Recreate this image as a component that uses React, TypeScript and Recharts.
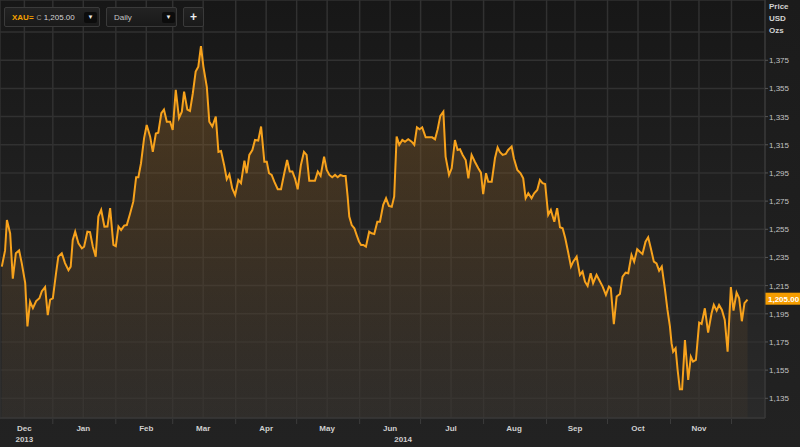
import React from "react";
import { ComposedChart, Area, XAxis, YAxis, CartesianGrid, ReferenceLine } from "recharts";

// trading days, counted in calendar days from 1 Dec 2013
const days = [
  5.9, 7.5, 8.4, 10.0, 11.3, 12.8, 14.4, 15.7, 17.4, 18.5,
  19.8, 21.2, 22.8, 24.4, 25.6, 27.2, 28.5, 29.7, 31.0, 32.6,
  33.7, 35.4, 37.0, 38.7, 39.8, 40.8, 42.0, 43.6, 45.3, 46.4,
  48.0, 49.3, 50.7, 52.1, 53.4, 54.8, 56.4, 57.9, 59.2, 60.8,
  62.0, 63.3, 64.6, 66.1, 67.4, 69.0, 70.6, 72.0, 73.1, 74.4,
  75.9, 77.2, 78.9, 80.2, 81.7, 82.9, 84.4, 85.7, 87.1, 88.7,
  90.0, 91.5, 93.1, 94.5, 95.6, 97.2, 98.5, 99.9, 101.3, 102.6,
  103.9, 105.1, 106.8, 108.0, 109.5, 111.2, 112.5, 113.8, 115.3, 116.6,
  117.9, 119.3, 120.7, 122.3, 123.6, 125.3, 126.4, 127.7, 129.2, 130.5,
  132.1, 133.5, 135.1, 136.3, 137.4, 138.7, 140.0, 141.7, 143.3, 144.9,
  146.3, 147.6, 148.9, 150.2, 151.5, 153.1, 154.6, 155.9, 157.2, 158.4,
  160.0, 161.4, 162.8, 164.5, 165.8, 167.1, 168.5, 169.9, 171.2, 172.5,
  173.8, 175.1, 176.1, 176.9, 178.1, 179.4, 180.5, 181.7, 182.7, 183.8,
  185.1, 186.7, 187.9, 189.2, 190.7, 192.0, 193.6, 195.0, 196.4, 197.8,
  199.0, 200.2, 201.5, 203.0, 204.3, 205.9, 207.6, 208.9, 210.2, 211.5,
  212.8, 214.5, 216.1, 217.7, 219.1, 220.4, 221.7, 223.2, 224.3, 226.0,
  227.3, 228.9, 230.2, 231.4, 232.7, 234.2, 235.5, 237.1, 238.7, 240.4,
  241.7, 242.8, 244.2, 245.3, 247.0, 248.6, 249.9, 251.0, 252.4, 253.9,
  255.1,
  256.8, 257.9, 259.6, 261.2, 262.5, 263.7, 265.0, 266.6, 267.9, 269.4,
  270.7, 272.0, 273.3, 274.8, 276.1, 277.8, 279.2, 280.6, 281.9, 283.2,
  284.6, 286.0, 287.1, 288.8, 290.4, 291.7, 292.9, 294.2, 295.7, 296.9,
  298.6, 299.9, 301.6, 303.2, 304.7, 305.6, 307.1, 308.5, 310.1, 311.4,
  312.9, 314.2, 315.8, 317.1, 318.6, 319.9, 321.2, 322.7, 324.0, 325.3,
  326.8, 328.1, 329.4, 330.7, 332.2, 333.5, 334.7, 335.5, 336.3, 337.5,
  338.5, 339.6, 340.7, 342.1, 343.7, 345.0, 346.1, 347.5, 349.1, 350.3,
  351.9, 353.5, 355.2, 356.3, 357.7, 358.9, 360.3, 361.7, 363.1, 364.7,
  366.0, 367.5, 368.8, 370.1, 371.4, 372.9,
];

const prices = [
  1228.5, 1240, 1261.6, 1252, 1220, 1238, 1240, 1231, 1217, 1186,
  1203.6, 1199, 1204, 1206, 1211, 1214, 1194, 1205, 1206, 1224,
  1235.6, 1238, 1231, 1226, 1228.5, 1247.4, 1253.3, 1245, 1241.5, 1242.6,
  1253.3, 1253, 1242.6, 1235.6, 1264, 1268.7, 1256.9, 1257, 1270, 1244,
  1243, 1257, 1254.5, 1257.6, 1258, 1266, 1274.6, 1292, 1292, 1301.9,
  1319.6, 1329, 1320.8, 1310, 1323, 1323.6, 1337.4, 1340, 1331.4, 1331.4,
  1325.5, 1354, 1334, 1338.5, 1352.7, 1340, 1339, 1351.6, 1367, 1370.5,
  1385, 1370.5, 1356, 1331.4, 1328, 1335, 1310, 1310.6, 1300.7, 1290.5,
  1294, 1284, 1279.4, 1290, 1287.7, 1303.7, 1294.8, 1307.8, 1311.3, 1318.4,
  1318, 1328, 1303, 1303, 1294.8, 1293.6, 1288.8, 1283.4, 1283.4, 1294.8,
  1304.2, 1296, 1296, 1291, 1283.4, 1300.7, 1310, 1307.8, 1289.5, 1289.5,
  1289.5, 1296, 1292.9, 1306.6, 1297.1, 1293.6, 1292, 1293.6, 1292, 1293.6,
  1292.9, 1292.9, 1278.2, 1264, 1258, 1255.7, 1251, 1246.2, 1243.9, 1243.9,
  1242.7, 1253.3, 1252.2, 1251.7, 1260.4, 1260.4, 1272.3, 1277, 1271.6, 1271,
  1278.2, 1320.8, 1314.9, 1318.4, 1317.2, 1318.9, 1317.2, 1314.9, 1327.4, 1326,
  1327.4, 1320.3, 1320.3, 1320.3, 1318.9, 1326, 1335.5, 1338.5, 1306.6, 1293.6,
  1298.3, 1318.4, 1311.3, 1311.8, 1307.8, 1304.2, 1291.2, 1307.8, 1303, 1298.3,
  1295.2, 1280, 1294.8, 1288.8, 1288.8, 1305.4, 1313.2, 1310, 1307.8, 1308.5,
  1311.3,
  1313.7, 1305.4, 1297.1, 1294.8, 1291.2, 1277, 1280.6, 1277, 1280.6, 1282.9,
  1290, 1287.7, 1287.2, 1265.2, 1268.7, 1260.4, 1270, 1256.4, 1255.7, 1248.6,
  1238.9, 1228.5, 1232, 1235.6, 1222.6, 1225, 1217.8, 1214.8, 1223.8, 1216.7,
  1222.6, 1219, 1214.3, 1208.4, 1214.3, 1213.1, 1187.6, 1207.2, 1209.1, 1221.4,
  1224.2, 1223.8, 1236.8, 1232, 1240.8, 1239, 1237.5, 1246.2, 1249.3, 1241.5,
  1232, 1230.8, 1225.6, 1228.5, 1213.1, 1197.7, 1186, 1174.1, 1168.1, 1170.5,
  1155.1, 1141.4, 1141.4, 1176.4, 1148, 1164.5, 1161, 1162.2, 1188.7, 1187.8,
  1198.9, 1181.6, 1195.4, 1201.3, 1197.2, 1201.3, 1197.7, 1190.6, 1168.1, 1213.9,
  1197.2, 1210, 1206, 1189.7, 1202.5, 1205,
];

const priceTicks = [1135, 1155, 1175, 1195, 1215, 1235, 1255, 1275, 1295, 1315, 1335, 1355, 1375, 1395];
const monthMidDays = [17, 46, 77, 105, 136, 166, 197, 227, 258, 288, 319, 349];
const monthNames = ["Dec", "Jan", "Feb", "Mar", "Apr", "May", "Jun", "Jul", "Aug", "Sep", "Oct", "Nov"];
const yearNames = ["2013", "", "", "", "", "", "2014", "", "", "", "", ""];
const monthStartDays = [31, 62, 90, 121, 151, 182, 212, 243, 274, 304, 335, 365];

const ric = "XAU=";
const lastPrice = 1205.0;
const period = "Daily";

const data = days.map((day, i) => ({ day, price: prices[i] }));
const gridDays = [...monthMidDays, ...monthStartDays].sort((a, b) => a - b);

const font = "'Liberation Sans', Arial, sans-serif";
const fmt = (v: number) => v.toLocaleString("en-US");
const fmt2 = (v: number) =>
  v.toLocaleString("en-US", { minimumFractionDigits: 2, maximumFractionDigits: 2 });

const XTick = (props: any) => {
  const { x, y, payload } = props;
  const i = monthMidDays.indexOf(payload.value);
  if (i >= 0) {
    return (
      <g fontFamily={font} fontSize={8} fontWeight="bold" fill="#cfcfcf">
        <text x={x} y={y + 13} textAnchor="middle">{monthNames[i]}</text>
        {yearNames[i] && (
          <text x={i === 0 ? x : x + 13} y={y + 24} textAnchor="middle">{yearNames[i]}</text>
        )}
      </g>
    );
  }
  return <line x1={x} x2={x} y1={y + 1} y2={y + 6} stroke="#3c3c3c" />;
};

const YTick = (props: any) => {
  const { x, y, payload } = props;
  if (payload.value > 1375) return <g />;
  return (
    <g>
      <line x1={x - 4} x2={x - 1} y1={y} y2={y} stroke="#555" />
      <text x={x} y={y} dy={3} fill="#c2c2c2" fontSize={8} fontFamily={font}>
        {fmt(payload.value)}
      </text>
    </g>
  );
};

const renderTag = (props: any) => {
  const vb = props.viewBox;
  const x = vb.x + vb.width;
  return (
    <g>
      <rect x={x} y={vb.y - 7} width={35} height={12} fill="#f59d00" />
      <text x={x + 3} y={vb.y} dy={2} fill="#ffffff" fontSize={8} fontWeight="bold" fontFamily={font}>
        {fmt2(lastPrice)}
      </text>
    </g>
  );
};

const box: React.CSSProperties = {
  position: "absolute",
  top: 7,
  height: 20,
  boxSizing: "border-box",
  background: "linear-gradient(#232323, #1a1a1a)",
  border: "1px solid #3a3a3a",
  borderRadius: 2,
  display: "flex",
  alignItems: "center",
  fontFamily: font,
};

const dropBtn: React.CSSProperties = {
  position: "absolute",
  top: 4,
  width: 13,
  height: 11,
  background: "#0c0c0c",
  borderRadius: 2,
  color: "#eee",
  fontSize: 6,
  lineHeight: "11px",
  textAlign: "center",
};

export default function App() {
  return (
    <div
      style={{
        position: "absolute",
        left: 0,
        top: 0,
        width: 800,
        height: 447,
        background: "linear-gradient(#1b1b1b, #222222)",
        overflow: "hidden",
      }}
    >
      <ComposedChart width={800} height={447} data={data} margin={{ top: 0, right: 0, bottom: 0, left: 0 }}>
        <defs>
          <linearGradient id="plotBg" x1="0" y1="0" x2="0" y2="1">
            <stop offset="0%" stopColor="#171717" />
            <stop offset="100%" stopColor="#2a2a2a" />
          </linearGradient>
          <linearGradient id="goldFill" x1="0" y1="0" x2="0" y2="1">
            <stop offset="0%" stopColor="#b87a28" stopOpacity={0.55} />
            <stop offset="45%" stopColor="#a86e26" stopOpacity={0.36} />
            <stop offset="100%" stopColor="#8a6030" stopOpacity={0.1} />
          </linearGradient>
        </defs>
        <CartesianGrid stroke="#313131" strokeWidth={1.5} fill="url(#plotBg)" />
        <XAxis
          dataKey="day"
          type="number"
          domain={[5, 381.5]}
          allowDataOverflow
          ticks={gridDays}
          interval={0}
          tick={XTick}
          tickLine={false}
          tickSize={0}
          tickMargin={0}
          height={29}
          axisLine={{ stroke: "#3a3a3a" }}
        />
        <YAxis
          orientation="right"
          type="number"
          domain={[1121, 1417.8]}
          allowDataOverflow
          ticks={priceTicks}
          interval={0}
          width={35}
          tick={YTick}
          tickLine={false}
          tickSize={0}
          tickMargin={4}
          axisLine={{ stroke: "#3a3a3a" }}
        />
        <Area
          dataKey="price"
          type="linear"
          stroke="#f7a21c"
          strokeWidth={2}
          fill="url(#goldFill)"
          dot={false}
          activeDot={false}
          isAnimationActive={false}
        />
        <ReferenceLine y={lastPrice} stroke="none" label={renderTag} />
      </ComposedChart>

      <div
        style={{
          position: "absolute",
          left: 769,
          top: 1,
          fontFamily: font,
          fontSize: 8,
          fontWeight: "bold",
          lineHeight: "12px",
          color: "#d2d2d2",
        }}
      >
        <div>Price</div>
        <div>USD</div>
        <div>Ozs</div>
      </div>

      <div style={{ ...box, left: 4, width: 96 }}>
        <span style={{ color: "#f5a000", fontWeight: "bold", fontSize: 8, marginLeft: 7 }}>{ric}</span>
        <span style={{ color: "#999", fontSize: 7, marginLeft: 3 }}>C</span>
        <span style={{ color: "#d4d4d4", fontSize: 8, marginLeft: 2 }}>{fmt2(lastPrice)}</span>
        <div style={{ ...dropBtn, left: 79 }}>▼</div>
      </div>
      <div style={{ ...box, left: 106, width: 71 }}>
        <span style={{ color: "#c4c4c4", fontSize: 8, marginLeft: 7 }}>{period}</span>
        <div style={{ ...dropBtn, left: 55 }}>▼</div>
      </div>
      <div style={{ ...box, left: 183, width: 21, justifyContent: "center" }}>
        <span style={{ color: "#eeeeee", fontSize: 12, fontWeight: "bold", lineHeight: "12px" }}>+</span>
      </div>
    </div>
  );
}
